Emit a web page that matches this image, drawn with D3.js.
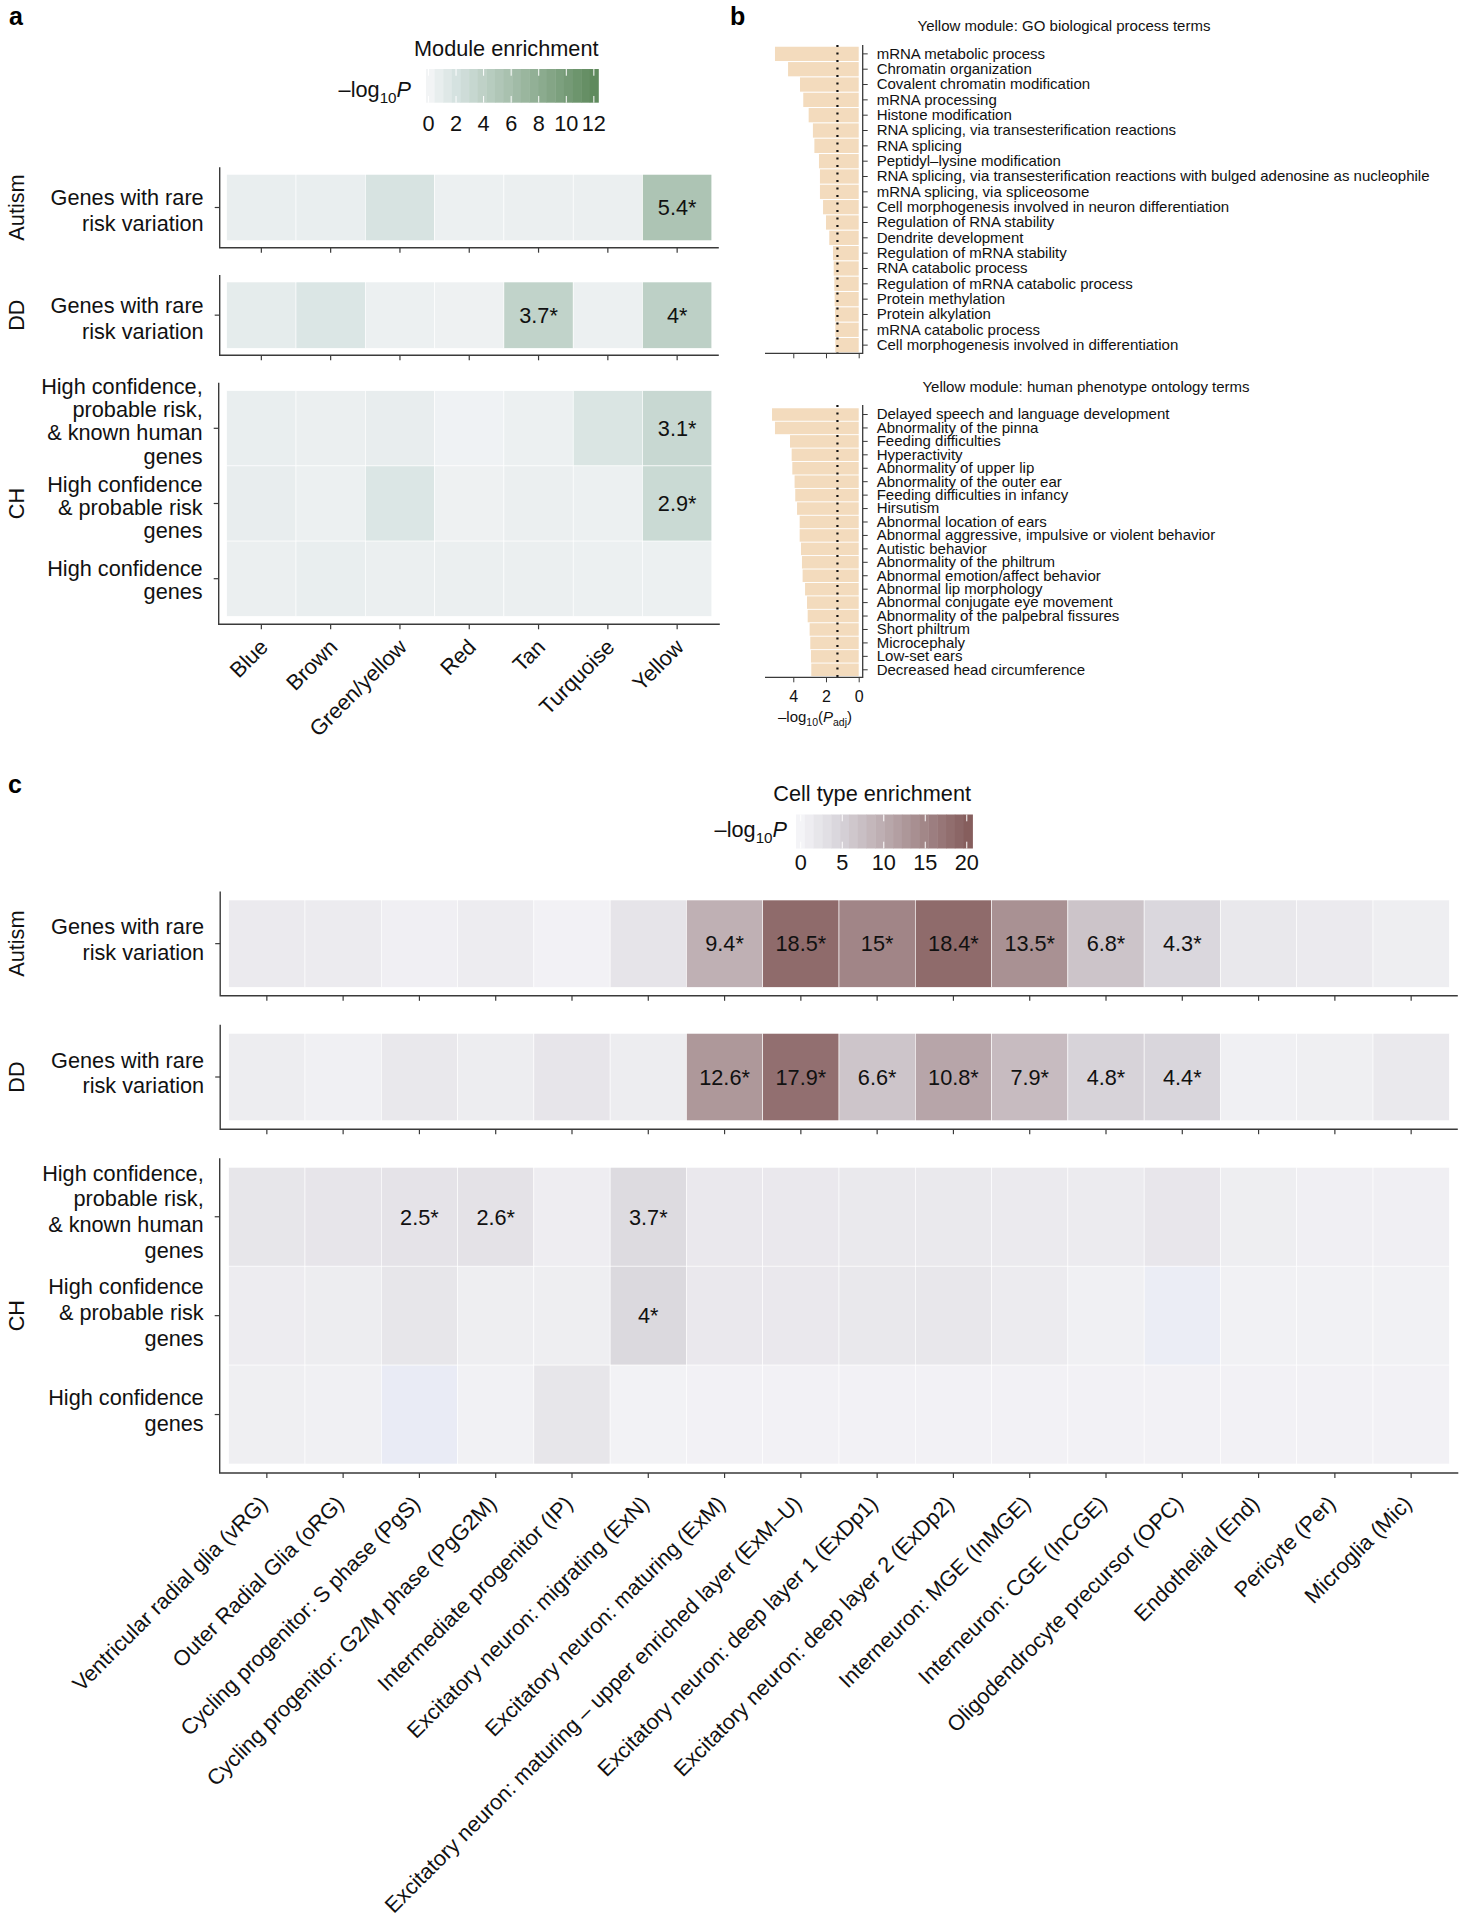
<!DOCTYPE html>
<html><head><meta charset="utf-8">
<script src="https://cdn.jsdelivr.net/npm/d3@7"></script>
<style>
body{margin:0;background:#fff;}
svg{display:block;font-family:"Liberation Sans",Arial,Helvetica,sans-serif;}
</style></head><body>
<svg id="chart" width="1464" height="1920"></svg>
<script>
// ---------------- DATA ----------------
const modules = ["Blue","Brown","Green/yellow","Red","Tan","Turquoise","Yellow"];
const modAutism = [0.7, 0.7, 1.9, 0.5, 0.6, 0.6, 5.4];
const modDD     = [1.0, 1.6, 0.5, 0.4, 3.7, 0.5, 4.0];
const modCH1    = [0.7, 0.6, 0.8, 0.3, 0.5, 1.7, 3.1];
const modCH2    = [0.8, 0.5, 1.6, 0.4, 0.6, 0.5, 2.9];
const modCH3    = [0.6, 0.7, 0.6, 0.6, 0.6, 0.5, 0.5];
const modLegendTicks = [0, 2, 4, 6, 8, 10, 12];

const rowRare = [["Genes with rare","risk variation"]];
const rowCH = [["High confidence,","probable risk,","& known human","genes"],
               ["High confidence","& probable risk","genes"],
               ["High confidence","genes"]];

const goTerms = ["mRNA metabolic process","Chromatin organization","Covalent chromatin modification","mRNA processing","Histone modification","RNA splicing, via transesterification reactions","RNA splicing","Peptidyl–lysine modification","RNA splicing, via transesterification reactions with bulged adenosine as nucleophile","mRNA splicing, via spliceosome","Cell morphogenesis involved in neuron differentiation","Regulation of RNA stability","Dendrite development","Regulation of mRNA stability","RNA catabolic process","Regulation of mRNA catabolic process","Protein methylation","Protein alkylation","mRNA catabolic process","Cell morphogenesis involved in differentiation"];
const goValues = [5.12, 4.32, 3.59, 3.39, 3.06, 2.80, 2.71, 2.43, 2.37, 2.37, 2.18, 2.00, 1.80, 1.57, 1.53, 1.49, 1.47, 1.45, 1.43, 1.43];

const hpoTerms = ["Delayed speech and language development","Abnormality of the pinna","Feeding difficulties","Hyperactivity","Abnormality of upper lip","Abnormality of the outer ear","Feeding difficulties in infancy","Hirsutism","Abnormal location of ears","Abnormal aggressive, impulsive or violent behavior","Autistic behavior","Abnormality of the philtrum","Abnormal emotion/affect behavior","Abnormal lip morphology","Abnormal conjugate eye movement","Abnormality of the palpebral fissures","Short philtrum","Microcephaly","Low-set ears","Decreased head circumference"];
const hpoValues = [5.30, 5.12, 4.20, 4.10, 4.06, 3.92, 3.88, 3.77, 3.61, 3.61, 3.53, 3.47, 3.43, 3.28, 3.16, 3.12, 3.00, 2.96, 2.92, 2.90];
const padjTicks = [0, 2, 4];
const padjCutoff = 1.3;

const cellTypes = ["Ventricular radial glia (vRG)","Outer Radial Glia (oRG)","Cycling progenitor: S phase (PgS)","Cycling progenitor: G2/M phase (PgG2M)","Intermediate progenitor (IP)","Excitatory neuron: migrating (ExN)","Excitatory neuron: maturing (ExM)","Excitatory neuron: maturing – upper enriched layer (ExM–U)","Excitatory neuron: deep layer 1 (ExDp1)","Excitatory neuron: deep layer 2 (ExDp2)","Interneuron: MGE (InMGE)","Interneuron: CGE (InCGE)","Oligodendrocyte precursor (OPC)","Endothelial (End)","Pericyte (Per)","Microglia (Mic)"];
const cellAutism = [1.5, 1.3, 0.7, 1.2, 0.4, 2.3, 9.4, 18.5, 15, 18.4, 13.5, 6.8, 4.3, 1.8, 1.4, 0.9];
const cellDD     = [1.1, 0.6, 1.8, 1.1, 2.2, 1.1, 12.6, 17.9, 6.6, 10.8, 7.9, 4.8, 4.4, 0.6, 0.8, 1.6];
const cellCH1    = [2.1, 2.2, 2.5, 2.6, 1.0, 3.7, 1.7, 1.7, 1.6, 1.6, 1.4, 1.3, 2.0, 0.9, 0.7, 0.7];
const cellCH2    = [1.2, 1.1, 2.1, 0.9, 0.9, 4.0, 1.7, 1.7, 1.8, 1.9, 1.3, 0.6, -0.8, 0.5, 0.5, 0.5];
const cellCH3    = [0.8, 0.6, -1.0, 0.5, 2.1, 0.3, 0.4, 0.4, 0.4, 0.4, 0.4, 0.4, 0.4, 0.4, 0.4, 0.4];
const cellLegendTicks = [0, 5, 10, 15, 20];

const SIG = 2.45;

// ---------------- SETUP ----------------
const svg = d3.select("#chart");
const FS = 21.7;
const AX = "#3a3a3a";

const modColor = d3.scaleLinear().domain([0, 2, 12.33])
  .range(["#f4f5f7", "#d5e2e0", "#5b8759"]).clamp(true);
const cellColor = d3.scaleLinear().domain([-1.5, 0, 4.4, 20.7])
  .range(["#e3e6f4", "#f4f4f7", "#d9d6dc", "#835a59"]).clamp(true);

function fmt(v){ return (Math.round(v*10)/10).toString() + "*"; }

function heatBlock(c){
  const g = svg.append("g");
  const x = d3.scaleBand().domain(c.cols).range([c.x0, c.x1]);
  const y = d3.scaleBand().domain(d3.range(c.values.length)).range([c.y0, c.y1]);
  const cells = [];
  c.values.forEach((row,i)=>row.forEach((v,j)=>cells.push({i,j,v})));
  g.selectAll("rect.cell").data(cells).join("rect").attr("class","cell")
    .attr("x", d=>x(c.cols[d.j])).attr("y", d=>y(d.i))
    .attr("width", x.bandwidth()).attr("height", y.bandwidth())
    .attr("fill", d=>c.color(d.v)).attr("stroke","#fff").attr("stroke-width",0.6);
  g.selectAll("text.val").data(cells.filter(d=>d.v>=SIG)).join("text").attr("class","val")
    .attr("x", d=>x(c.cols[d.j])+x.bandwidth()/2)
    .attr("y", d=>y(d.i)+y.bandwidth()/2)
    .attr("dy","0.36em").attr("text-anchor","middle")
    .style("font-size", FS+"px").attr("fill","#111").text(d=>fmt(d.v));
  const e = c.exp;
  const gx = g.append("g").attr("transform",`translate(0,${c.y1+e})`)
    .call(d3.axisBottom(x).tickSize(5).tickSizeOuter(0).tickFormat(""));
  gx.select(".domain").remove();
  gx.selectAll(".tick line").attr("stroke",AX).attr("stroke-width",1.2);
  const gy = g.append("g").attr("transform",`translate(${c.x0-e},0)`)
    .call(d3.axisLeft(y).tickSize(5).tickSizeOuter(0).tickFormat(""));
  gy.select(".domain").remove();
  gy.selectAll(".tick line").attr("stroke",AX).attr("stroke-width",1.2);
  g.append("path").attr("d",`M${c.x0-e},${c.y0-e}V${c.y1+e}H${x.range()[1]+e}`)
    .attr("fill","none").attr("stroke",AX).attr("stroke-width",1.4);
  c.labels.forEach((lines,i)=>{
    const cy = y(i)+y.bandwidth()/2 + (c.shift ? c.shift[i] : 0);
    const t = g.append("text").attr("text-anchor","end").style("font-size",FS+"px").attr("fill","#111");
    lines.forEach((ln,k)=>{
      t.append("tspan").attr("x", c.x0-e-16)
        .attr("y", cy + (k-(lines.length-1)/2)*c.lineH + 7.5).text(ln);
    });
  });
  g.append("text").attr("transform",`translate(24,${(c.y0+c.y1)/2}) rotate(-90)`)
    .attr("text-anchor","middle").style("font-size",FS+"px").attr("fill","#111").text(c.group);
  if(c.showX){
    g.selectAll("text.xl").data(c.cols).join("text").attr("class","xl")
      .attr("transform", d=>`translate(${x(d)+x.bandwidth()/2+c.lx},${c.y1+e+c.ly}) rotate(-45)`)
      .attr("text-anchor","end").attr("dy","0.72em")
      .style("font-size",FS+"px").attr("fill","#111").text(d=>d);
  }
}

function logLabel(t){
  t.append("tspan").text("–log");
  t.append("tspan").attr("dy", 6).style("font-size", (FS*0.7)+"px").text("10");
  t.append("tspan").attr("dy", -6).style("font-style","italic").text("P");
}

function colorbar(c){
  const g = svg.append("g");
  const s = d3.scaleLinear().domain([c.vmin,c.vmax]).range([c.x0,c.x1]);
  const nb = 20, step = (c.vmax-c.vmin)/nb;
  g.selectAll("rect").data(d3.range(nb)).join("rect")
    .attr("x", i=>s(c.vmin+i*step)).attr("y", c.y0)
    .attr("width", s(c.vmin+step)-s(c.vmin)+0.4).attr("height", c.y1-c.y0)
    .attr("fill", i=>c.color(c.vmin+(i+0.5)*step));
  const h = (c.y1-c.y0)/5;
  c.ticks.forEach(t=>{
    g.append("line").attr("x1",s(t)).attr("x2",s(t)).attr("y1",c.y0).attr("y2",c.y0+h).attr("stroke","#fff").attr("stroke-width",1);
    g.append("line").attr("x1",s(t)).attr("x2",s(t)).attr("y1",c.y1-h).attr("y2",c.y1).attr("stroke","#fff").attr("stroke-width",1);
  });
  g.selectAll("text.tl").data(c.ticks).join("text").attr("class","tl")
    .attr("x", d=>s(d)).attr("y", c.tickY).attr("text-anchor","middle")
    .style("font-size",FS+"px").attr("fill","#111").text(d=>d);
  g.append("text").attr("x", c.titleX).attr("y", c.titleY).attr("text-anchor","end")
    .style("font-size",FS+"px").attr("fill","#111").text(c.title);
  const lt = g.append("text").attr("x", c.labX).attr("y", c.labY).attr("text-anchor","end")
    .style("font-size",FS+"px").attr("fill","#111");
  logLabel(lt);
}

function barPanel(c){
  const g = svg.append("g");
  const x = d3.scaleLinear().domain([0, 5.73]).range([858.7, 765]);
  const y = d3.scaleBand().domain(c.terms).range(c.band).paddingInner(0.07).paddingOuter(0.035);
  g.selectAll("rect").data(c.terms).join("rect")
    .attr("x", (d,i)=>x(c.values[i])).attr("y", d=>y(d))
    .attr("width", (d,i)=>x(0)-x(c.values[i])).attr("height", y.bandwidth())
    .attr("fill","#f3dbbd");
  g.append("line").attr("x1",x(padjCutoff)).attr("x2",x(padjCutoff))
    .attr("y1",c.top).attr("y2",c.bottom).attr("stroke","#111").attr("stroke-width",2.2)
    .attr("stroke-dasharray","2,5.5");
  const ax = 862.7;
  const gy = g.append("g").attr("transform",`translate(${ax},0)`)
    .call(d3.axisRight(y).tickSize(5).tickSizeOuter(0).tickPadding(9));
  gy.select(".domain").remove();
  gy.selectAll(".tick line").attr("stroke",AX).attr("stroke-width",1);
  gy.selectAll(".tick text").style("font-size","15px").attr("fill","#111")
    .style("font-family","'Liberation Sans',Arial,sans-serif");
  const gx = g.append("g").attr("transform",`translate(0,${c.bottom})`)
    .call(d3.axisBottom(x).tickValues(padjTicks).tickSize(5).tickSizeOuter(0).tickPadding(8)
      .tickFormat(c.showX ? d3.format("d") : ""));
  gx.select(".domain").remove();
  gx.selectAll(".tick line").attr("stroke",AX).attr("stroke-width",1);
  gx.selectAll(".tick text").style("font-size","16px").attr("fill","#111")
    .style("font-family","'Liberation Sans',Arial,sans-serif");
  g.append("path").attr("d",`M${ax},${c.top}V${c.bottom}H765`)
    .attr("fill","none").attr("stroke",AX).attr("stroke-width",1.3);
  g.append("text").attr("x",c.titleX).attr("y",c.titleY).attr("text-anchor","middle")
    .style("font-size","15px").attr("fill","#111").text(c.title);
  if(c.showX){
    const t = g.append("text").attr("x",815).attr("y",c.bottom+45).attr("text-anchor","middle")
      .style("font-size","15px").attr("fill","#111");
    t.append("tspan").text("–log");
    t.append("tspan").attr("dy",4).style("font-size","10.5px").text("10");
    t.append("tspan").attr("dy",-4).text("(");
    t.append("tspan").style("font-style","italic").text("P");
    t.append("tspan").attr("dy",4).style("font-size","10.5px").text("adj");
    t.append("tspan").attr("dy",-4).text(")");
  }
}

// ---------------- PANEL LETTERS ----------------
[["a",9,25],["b",730,25],["c",8,793]].forEach(([l,x,y])=>{
  svg.append("text").attr("x",x).attr("y",y).style("font-size","25px").style("font-weight","bold")
    .style("font-family","'Liberation Sans Narrow','Liberation Sans',Arial,sans-serif").text(l);
});

// ---------------- PANEL A ----------------
colorbar({x0:426, x1:598.4, y0:69, y1:102.7, vmin:-0.18, vmax:12.33, ticks:modLegendTicks,
  color:modColor, tickY:131, title:"Module enrichment", titleX:598.5, titleY:56, labX:411, labY:96.5});
const aX0 = 226.7, aX1 = 711.8;
heatBlock({group:"Autism", cols:modules, values:[modAutism], labels:rowRare, x0:aX0, x1:aX1,
  y0:174.3, y1:240.7, exp:7, color:modColor, lineH:25.7, shift:[3], showX:false});
heatBlock({group:"DD", cols:modules, values:[modDD], labels:rowRare, x0:aX0, x1:aX1,
  y0:282, y1:348.3, exp:7, color:modColor, lineH:25.7, shift:[3], showX:false});
heatBlock({group:"CH", cols:modules, values:[modCH1, modCH2, modCH3], labels:rowCH, x0:aX0, x1:aX1,
  y0:390.7, y1:616.3, exp:8, color:modColor, lineH:23.3, shift:[-7, 4, 1], showX:true, lx:-3, ly:13});

// ---------------- PANEL B ----------------
barPanel({terms:goTerms, values:goValues, top:45, bottom:353.3, band:[46.2,352.8],
  title:"Yellow module: GO biological process terms", titleX:1064, titleY:31, showX:false});
barPanel({terms:hpoTerms, values:hpoValues, top:405, bottom:677.3, band:[407.8,676.5],
  title:"Yellow module: human phenotype ontology terms", titleX:1086, titleY:392, showX:true});

// ---------------- PANEL C ----------------
colorbar({x0:796, x1:972.5, y0:814.5, y1:848.5, vmin:-0.57, vmax:20.69, ticks:cellLegendTicks,
  color:cellColor, tickY:870, title:"Cell type enrichment", titleX:971, titleY:801, labX:787, labY:837});
const cX0 = 228.7, cX1 = 1449.3;
heatBlock({group:"Autism", cols:cellTypes, values:[cellAutism], labels:rowRare, x0:cX0, x1:cX1,
  y0:900, y1:987.3, exp:8.5, color:cellColor, lineH:25.7, shift:[-4], showX:false});
heatBlock({group:"DD", cols:cellTypes, values:[cellDD], labels:rowRare, x0:cX0, x1:cX1,
  y0:1033.3, y1:1120.7, exp:8.5, color:cellColor, lineH:25.7, shift:[-4], showX:false});
heatBlock({group:"CH", cols:cellTypes, values:[cellCH1, cellCH2, cellCH3], labels:rowCH, x0:cX0, x1:cX1,
  y0:1167.3, y1:1464, exp:9, color:cellColor, lineH:25.7, shift:[-5, -3, -4], showX:true, lx:-9, ly:21});
</script>
</body></html>
